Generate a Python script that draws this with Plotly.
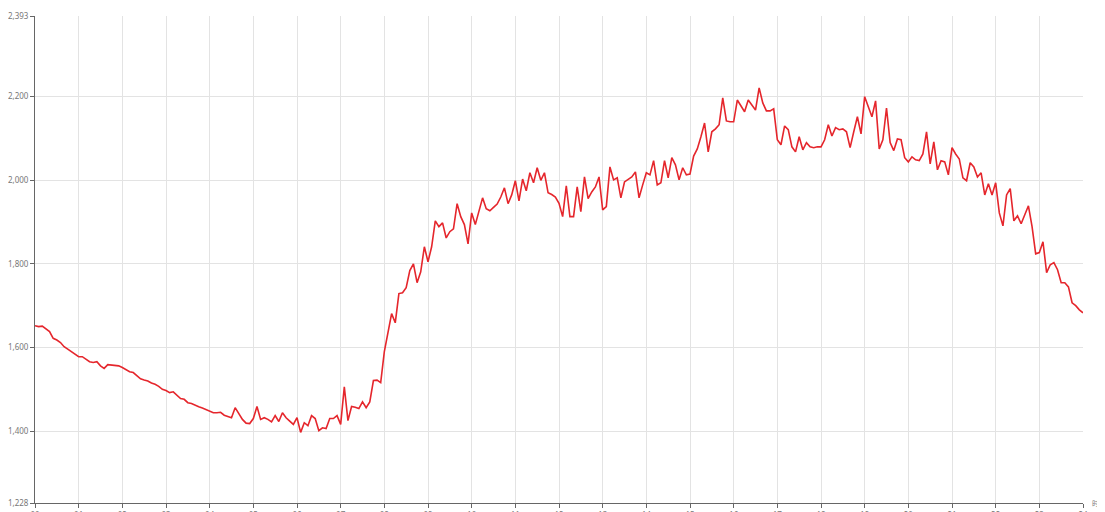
import plotly.graph_objects as go

# one reading every 5 minutes, 00:00 .. 24:00
minutes = list(range(0, 24 * 60 + 1, 5))
values = [
    1652, 1650, 1651, 1645, 1638, 1622, 1618, 1612, 1602, 1596, 1590, 1583,
    1578, 1578, 1572, 1566, 1564, 1566, 1556, 1550, 1559, 1558, 1557, 1556,
    1552, 1546, 1542, 1540, 1533, 1525, 1522, 1520, 1515, 1512, 1507, 1500,
    1497, 1492, 1494, 1485, 1478, 1476, 1468, 1466, 1461, 1458, 1455, 1451,
    1448, 1444, 1444, 1445, 1438, 1435, 1432, 1456, 1442, 1428, 1419, 1418,
    1430, 1459, 1428, 1432, 1428, 1422, 1437, 1423, 1444, 1432, 1424, 1416,
    1432, 1397, 1420, 1413, 1437, 1430, 1401, 1408, 1406, 1430, 1430, 1437,
    1416, 1506, 1425, 1459, 1457, 1454, 1470, 1456, 1470, 1521, 1522, 1516,
    1590, 1635, 1681, 1659, 1729, 1731, 1743, 1784, 1800, 1755, 1781, 1841,
    1805, 1841, 1903, 1889, 1898, 1862, 1877, 1884, 1944, 1913, 1894, 1848,
    1922, 1894, 1925, 1958, 1932, 1927, 1935, 1943, 1960, 1982, 1944, 1965,
    1999, 1951, 2003, 1975, 2018, 1994, 2030, 2000, 2018, 1970, 1966, 1960,
    1945, 1913, 1987, 1913, 1913, 1984, 1925, 2008, 1956, 1972, 1984, 2008,
    1929, 1937, 2032, 2001, 2006, 1958, 1996, 2003, 2008, 2020, 1958, 1989,
    2018, 2013, 2047, 1989, 1994, 2047, 2006, 2054, 2037, 2001, 2030, 2013,
    2015, 2058, 2075, 2104, 2137, 2068, 2116, 2123, 2133, 2197, 2142, 2140,
    2140, 2192, 2178, 2164, 2192, 2180, 2168, 2221, 2185, 2166, 2166, 2171,
    2097, 2085, 2130, 2121, 2080, 2068, 2104, 2073, 2090, 2080, 2078, 2080,
    2080, 2097, 2133, 2106, 2126, 2121, 2123, 2116, 2078, 2116, 2152, 2111,
    2200, 2176, 2152, 2190, 2075, 2097, 2173, 2090, 2071, 2099, 2097, 2054,
    2044, 2056, 2049, 2047, 2063, 2116, 2039, 2092, 2025, 2047, 2044, 2013,
    2078, 2063, 2051, 2006, 1999, 2042, 2032, 2008, 2018, 1965, 1992, 1965,
    1994, 1922, 1891, 1965, 1980, 1903, 1915, 1896, 1918, 1939, 1889, 1824,
    1827, 1853, 1779, 1798, 1803, 1786, 1755, 1755, 1745, 1707, 1700, 1690,
    1683,
]
hour_ticks = list(range(0, 25))
hour_labels = [f"{h:02d}" for h in hour_ticks]
y_ticks = [1228, 1400, 1600, 1800, 2000, 2200, 2393]

hours = [m / 60 for m in minutes]

fig = go.Figure(go.Scatter(
    x=hours, y=values, mode="lines",
    line=dict(color="#e5262c", width=1.6),
    hoverinfo="x+y",
))

# page body adds an 8px margin, so the figure is sized to fit inside the window
axis_font = dict(family="Noto Sans, Open Sans, sans-serif", size=8, color="#777")
fig.update_layout(
    width=1097, height=504,
    margin=dict(l=27, r=22, t=8, b=9, autoexpand=False),
    paper_bgcolor="white", plot_bgcolor="white",
    showlegend=False,
    xaxis=dict(
        range=[0, 24], tickvals=hour_ticks, ticktext=hour_labels,
        showgrid=True, gridcolor="#e3e3e3", gridwidth=1,
        showline=True, linecolor="#666", linewidth=1,
        ticks="outside", ticklen=4, tickcolor="#666",
        tickfont=axis_font, zeroline=False, automargin=False,
    ),
    yaxis=dict(
        range=[1228, 2393], tickvals=y_ticks, tickformat=",",
        showgrid=True, gridcolor="#e3e3e3", gridwidth=1,
        showline=True, linecolor="#666", linewidth=1,
        ticks="outside", ticklen=4, tickcolor="#666",
        tickfont=axis_font, zeroline=False, automargin=False,
    ),
    annotations=[dict(
        text="时间", x=1, y=0, xref="paper", yref="paper",
        xanchor="left", yanchor="middle", xshift=7, showarrow=False,
        font=dict(family="Noto Sans CJK SC, sans-serif", size=7, color="#777"),
    )],
)

fig.write_html("out.html")
